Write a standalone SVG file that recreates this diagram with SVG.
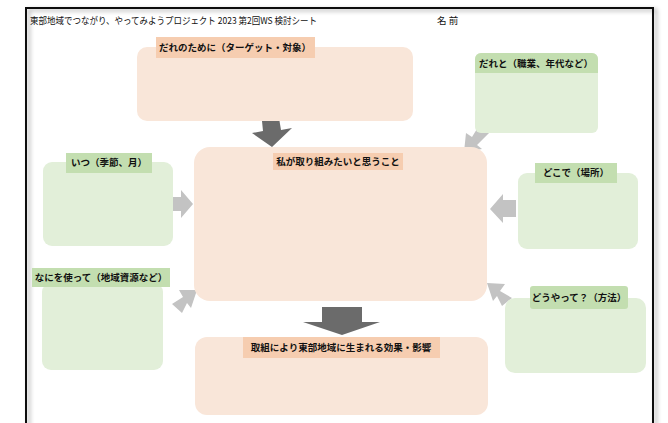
<svg xmlns="http://www.w3.org/2000/svg" width="668" height="423" viewBox="0 0 668 423">
<style>
text{font-family:"Noto Sans CJK JP","Noto Sans",sans-serif;fill:#111;}
.lbl{font-size:9.5px;font-weight:bold;text-anchor:middle;}
.peach{fill:#f9e6d9;}
.ptab{fill:#f6cdb0;}
.green{fill:#e2efd9;}
.gtab{fill:#c3deb0;}
.ga{fill:#c3c3c3;}
.da{fill:#6b6b6b;}
</style>
<defs>
<filter id="sh" x="-5%" y="-5%" width="110%" height="110%"><feDropShadow dx="3" dy="2" stdDeviation="2" flood-color="#000" flood-opacity="0.35"/></filter>
</defs>
<rect width="668" height="423" fill="#fff"/>
<path d="M26,430 V8 H653 V430" fill="none" stroke="#111" stroke-width="2" filter="url(#sh)"/>
<text x="30" y="24" font-size="9.5" textLength="287" lengthAdjust="spacingAndGlyphs">東部地域でつながり、やってみようプロジェクト 2023 第2回WS 検討シート</text>
<text x="437" y="24" font-size="9.5">名 前</text>

<g id="connectors">
<polygon class="da" points="262,121 279,118 281,130 292,128 272,147 252,133 263,131" />
<polygon class="ga" points="490,132 480,124 472,137 466,133 464,152 482,149 477,145"/>
<polygon class="ga" points="167,197 181,197 181,190 193,204 181,218 181,211 167,211"/>
<polygon class="ga" points="516,200 503,200 503,194 490,209 503,223 503,217 516,217"/>
<polygon class="ga" points="172,304 182,313 187,303 191,308 197,290 179,290 183,297"/>
<polygon class="ga" points="512,298 502,306 497,296 493,301 487,283 505,284 500,291"/>
<polygon class="da" points="322,307 362,307 362,322 380,322 342,335 303,322 322,322"/>
</g>

<g id="target">
<rect class="peach" x="137" y="47" width="276" height="74" rx="10"/>
<rect class="ptab" x="156" y="37" width="159" height="21"/>
<text class="lbl" x="235" y="51">だれのために（ターゲット・対象）</text>
</g>
<g id="with-whom">
<rect class="green" x="475" y="53" width="123" height="80" rx="6"/>
<path class="gtab" d="M481,53 H592 A6,6 0 0 1 598,59 V73 H475 V59 A6,6 0 0 1 481,53 Z"/>
<text class="lbl" x="536" y="67">だれと（職業、年代など）</text>
</g>
<g id="when">
<rect class="green" x="43" y="162" width="130" height="84" rx="9"/>
<rect class="gtab" x="66" y="153" width="86" height="20"/>
<text class="lbl" x="109" y="166">いつ（季節、月）</text>
</g>
<g id="main">
<rect class="peach" x="194" y="147" width="293" height="154" rx="16"/>
<rect class="ptab" x="273" y="153" width="130" height="17"/>
<text class="lbl" x="338" y="165">私が取り組みたいと思うこと</text>
</g>
<g id="where">
<rect class="green" x="518" y="173" width="120" height="76" rx="9"/>
<rect class="gtab" x="535" y="163" width="82" height="20"/>
<text class="lbl" x="576" y="176">どこで（場所）</text>
</g>
<g id="using">
<rect class="green" x="42" y="283" width="121" height="87" rx="9"/>
<rect class="gtab" x="32" y="268" width="138" height="19"/>
<text class="lbl" x="101" y="281">なにを使って（地域資源など）</text>
</g>
<g id="how">
<rect class="green" x="505" y="298" width="141" height="75" rx="10"/>
<rect class="gtab" x="530" y="286" width="98" height="23" rx="3"/>
<text class="lbl" x="579" y="301">どうやって？（方法）</text>
</g>
<g id="effect">
<rect class="peach" x="195" y="337" width="293" height="78" rx="12"/>
<rect class="ptab" x="243" y="337" width="197" height="21"/>
<text class="lbl" x="341" y="351">取組により東部地域に生まれる効果・影響</text>
</g>
</svg>
